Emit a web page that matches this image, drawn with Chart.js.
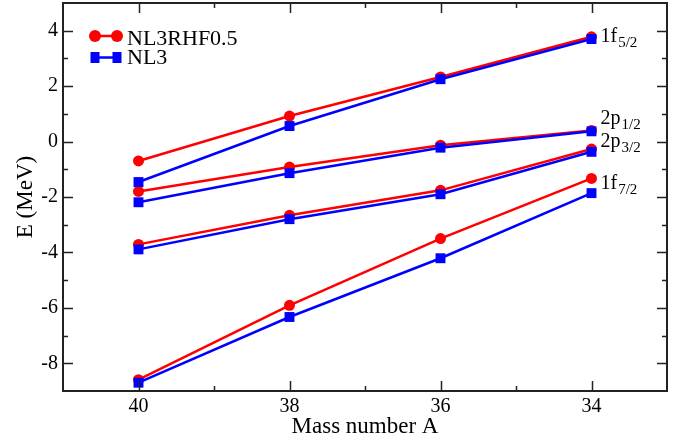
<!DOCTYPE html>
<html>
<head>
<meta charset="utf-8">
<script src="https://cdn.jsdelivr.net/npm/chart.js@4"></script>
<style>
  html, body { margin: 0; padding: 0; background: #fff; }
  canvas { display: block; }
</style>
</head>
<body>
<canvas id="chart" width="698" height="443"></canvas>
<script>
/* data */
const massNumbers = [40, 38, 36, 34];
const levels = ['1f5/2', '2p1/2', '2p3/2', '1f7/2'];

// NL3RHF0.5 (red circles)
const rhf_1f52 = [-0.70, 0.92, 2.33, 3.78];
const rhf_2p12 = [-1.80, -0.92, -0.13, 0.40];
const rhf_2p32 = [-3.71, -2.66, -1.76, -0.27];
const rhf_1f72 = [-8.59, -5.91, -3.50, -1.33];

// NL3 (blue squares)
const nl3_1f52 = [-1.46, 0.56, 2.25, 3.70];
const nl3_2p12 = [-2.19, -1.14, -0.22, 0.37];
const nl3_2p32 = [-3.89, -2.80, -1.90, -0.37];
const nl3_1f72 = [-8.70, -6.33, -4.21, -1.86];

const xTicks = [40, 38, 36, 34];
const yTicks = [-8, -6, -4, -2, 0, 2, 4];

// level names drawn at the right end: main text + subscript, anchor in data units
const levelMain = ['1f', '2p', '2p', '1f'];
const levelSub = ['5/2', '1/2', '3/2', '7/2'];
const levelY = [3.59, 0.63, -0.20, -1.72];

const RED = '#ff0000';
const BLUE = '#0000ff';
const SERIF = '"Liberation Serif", "DejaVu Serif", serif';

function pts(vals) {
  return massNumbers.map((m, i) => ({ x: m, y: vals[i] }));
}

function series(vals, color, style, order) {
  return {
    data: pts(vals),
    borderColor: color,
    backgroundColor: color,
    borderWidth: 2.5,
    pointStyle: style,
    pointRadius: style === 'circle' ? 5.5 : 7,
    pointBorderWidth: 0,
    showLine: true,
    tension: 0,
    order: order
  };
}

const datasets = [
  series(nl3_1f52, BLUE, 'rect', 0),
  series(nl3_2p12, BLUE, 'rect', 0),
  series(nl3_2p32, BLUE, 'rect', 0),
  series(nl3_1f72, BLUE, 'rect', 0),
  series(rhf_1f52, RED, 'circle', 1),
  series(rhf_2p12, RED, 'circle', 1),
  series(rhf_2p32, RED, 'circle', 1),
  series(rhf_1f72, RED, 'circle', 1)
];

/////////////////* frame, inward ticks, legend, level labels *//////////////
const decorPlugin = {
  id: 'decor',
  afterDatasetsDraw(chart) {
    const ctx = chart.ctx;
    const a = chart.chartArea;
    const xs = chart.scales.x, ys = chart.scales.y;
    ctx.save();
    ctx.strokeStyle = '#222';
    ctx.lineWidth = 1.5;
    // ticks on all four sides, majors long, minors short
    for (let v = 34; v <= 40; v++) {
      const px = Math.round(xs.getPixelForValue(v)) + 0.5;
      const len = v % 2 === 0 ? 10 : 5;
      ctx.beginPath();
      ctx.moveTo(px, a.bottom); ctx.lineTo(px, a.bottom - len);
      ctx.moveTo(px, a.top); ctx.lineTo(px, a.top + len);
      ctx.stroke();
    }
    for (let v = -8; v <= 4; v++) {
      const py = Math.round(ys.getPixelForValue(v)) + 0.5;
      const len = v % 2 === 0 ? 10 : 5;
      ctx.beginPath();
      ctx.moveTo(a.left, py); ctx.lineTo(a.left + len, py);
      ctx.moveTo(a.right, py); ctx.lineTo(a.right - len, py);
      ctx.stroke();
    }
    ctx.lineWidth = 2;
    ctx.strokeRect(a.left, a.top, a.right - a.left, a.bottom - a.top);

    // legend
    const lx = 95, lx2 = 117;
    const entries = [
      { y: 36, base: 45, color: RED, label: 'NL3RHF0.5', circle: true },
      { y: 57.5, base: 64, color: BLUE, label: 'NL3', circle: false }
    ];
    ctx.font = '22px ' + SERIF;
    ctx.textBaseline = 'alphabetic';
    entries.forEach(e => {
      ctx.strokeStyle = e.color;
      ctx.fillStyle = e.color;
      ctx.lineWidth = 2.5;
      ctx.beginPath();
      ctx.moveTo(lx, e.y); ctx.lineTo(lx2, e.y);
      ctx.stroke();
      [lx, lx2].forEach(px => {
        if (e.circle) {
          ctx.beginPath();
          ctx.arc(px, e.y, 6, 0, Math.PI * 2);
          ctx.fill();
        } else {
          ctx.fillRect(px - 4.5, e.y - 5.5, 9, 11);
        }
      });
      ctx.fillStyle = '#000';
      ctx.fillText(e.label, 127, e.base);
    });

    // level labels next to A = 34
    ctx.fillStyle = '#000';
    const x0 = xs.getPixelForValue(34) + 9;
    levelMain.forEach((t, i) => {
      const y = ys.getPixelForValue(levelY[i]);
      ctx.font = '20px ' + SERIF;
      ctx.fillText(t, x0, y);
      const w = ctx.measureText(t).width;
      ctx.font = '15px ' + SERIF;
      ctx.fillText(levelSub[i], x0 + w + 1, y + 5);
    });
    ctx.restore();
  }
};

const ctx = document.getElementById('chart').getContext('2d');
new Chart(ctx, {
  type: 'scatter',
  data: { datasets: datasets },
  plugins: [decorPlugin],
  options: {
    responsive: false,
    animation: false,
    layout: { autoPadding: false, padding: { top: 3, right: 31, left: 0, bottom: 0 } },
    plugins: { legend: { display: false }, tooltip: { enabled: false } },
    scales: {
      x: {
        type: 'linear',
        min: 33, max: 41,
        reverse: true,
        grid: { display: false, drawTicks: false },
        border: { display: false },
        afterBuildTicks: s => { s.ticks = xTicks.map(v => ({ value: v })); },
        afterFit: s => { s.height = 52; s.paddingLeft = 0; s.paddingRight = 0; },
        ticks: { color: '#000', padding: 4, font: { family: SERIF, size: 20 } },
        title: {
          display: true, text: 'Mass number A', color: '#000',
          padding: { top: 0, bottom: 2 },
          font: { family: SERIF, size: 23 }
        }
      },
      y: {
        min: -9, max: 5,
        grid: { display: false, drawTicks: false },
        border: { display: false },
        afterBuildTicks: s => { s.ticks = yTicks.map(v => ({ value: v })); },
        afterFit: s => { s.width = 63; s.paddingTop = 0; s.paddingBottom = 0; },
        ticks: { color: '#000', padding: 5, font: { family: SERIF, size: 20 } },
        title: {
          display: true, text: 'E (MeV)', color: '#000',
          padding: { top: 12, bottom: 0 },
          font: { family: SERIF, size: 23 }
        }
      }
    }
  }
});
</script>
</body>
</html>
